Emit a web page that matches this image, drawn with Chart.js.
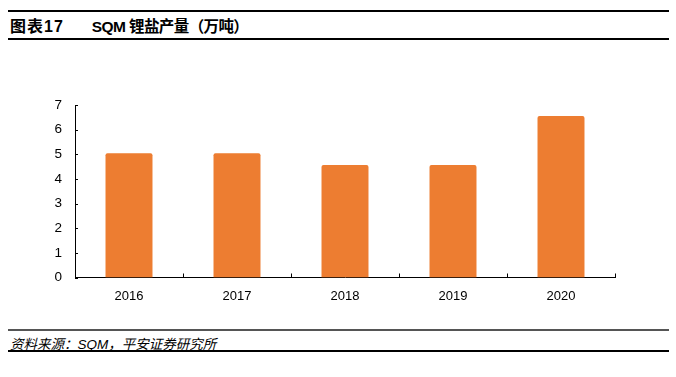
<!DOCTYPE html>
<html><head><meta charset="utf-8">
<script src="https://cdn.jsdelivr.net/npm/chart.js@4/dist/chart.umd.min.js"></script>
<style>
html,body{margin:0;padding:0;background:#fff;}
body{width:676px;height:377px;position:relative;overflow:hidden;font-family:"Liberation Sans","Noto Sans CJK SC",sans-serif;}
.l{position:absolute;left:8px;width:661px;}
#t{position:absolute;left:10px;top:13px;font-size:16px;font-weight:bold;color:#000;white-space:pre;}
#t .a{letter-spacing:1px;}
#t .b{display:inline-block;margin-left:28px;font-size:15.5px;letter-spacing:-0.6px;}
#s{position:absolute;left:10px;top:333px;font-size:13.5px;font-style:italic;color:#000;white-space:pre;}
#c{position:absolute;left:0;top:40px;width:676px;height:280px;}
</style></head><body>
<div class="l" style="top:10px;height:2px;background:#000;"></div>
<div id="t"><span class="a">图表17</span><span class="b">SQM 锂盐产量（万吨）</span></div>
<div class="l" style="top:38px;height:1.5px;background:#000;"></div>
<div id="c"><canvas id="cv" width="676" height="280"></canvas></div>
<div class="l" style="top:329px;height:2px;background:#555;"></div>
<div id="s">资料来源：SQM，平安证券研究所</div>
<div class="l" style="top:350px;height:1.5px;background:#000;"></div>
<script>
const categories = ["2016","2017","2018","2019","2020"];
const production = [5.04, 5.04, 4.57, 4.57, 6.55];
const yTicks = [0,1,2,3,4,5,6,7];

const tickMarks = {
  id:'tickMarks',
  afterDraw(chart){
    const ctx = chart.ctx, x = chart.scales.x, y = chart.scales.y;
    ctx.save();
    ctx.strokeStyle = '#000';
    ctx.lineWidth = 1;
    ctx.beginPath();
    yTicks.forEach(v=>{
      const py = Math.round(y.getPixelForValue(v))+0.5;
      ctx.moveTo(x.left, py); ctx.lineTo(x.left+3, py);
    });
    const n = categories.length;
    for(let i=0;i<=n;i++){
      const px = Math.round(x.left + i*(x.right-x.left)/n)+0.5;
      ctx.moveTo(px, y.bottom); ctx.lineTo(px, y.bottom-4);
    }
    ctx.stroke();
    ctx.restore();
  }
};

new Chart(document.getElementById('cv'), {
  type:'bar',
  data:{labels:categories, datasets:[{data:production, backgroundColor:'#ED7D31', borderRadius:2, borderSkipped:'bottom', barPercentage:0.87, categoryPercentage:0.5}]},
  options:{
    responsive:false, animation:false, devicePixelRatio:1,
    layout:{padding:{left:35,right:61,top:65,bottom:0}},
    plugins:{legend:{display:false},tooltip:{enabled:false}},
    scales:{
      x:{
        grid:{display:false},
        border:{display:true,color:'#000',width:1},
        ticks:{color:'#000',font:{family:'Liberation Sans',size:13},padding:3},
        afterFit(s){s.height=42.5;}
      },
      y:{
        min:0,max:7,
        grid:{display:false},
        border:{display:true,color:'#000',width:1},
        ticks:{stepSize:1,color:'#000',font:{family:'Liberation Sans',size:13.5},padding:5},
        afterFit(s){s.width=40;}
      }
    }
  },
  plugins:[tickMarks]
});
</script>
</body></html>
